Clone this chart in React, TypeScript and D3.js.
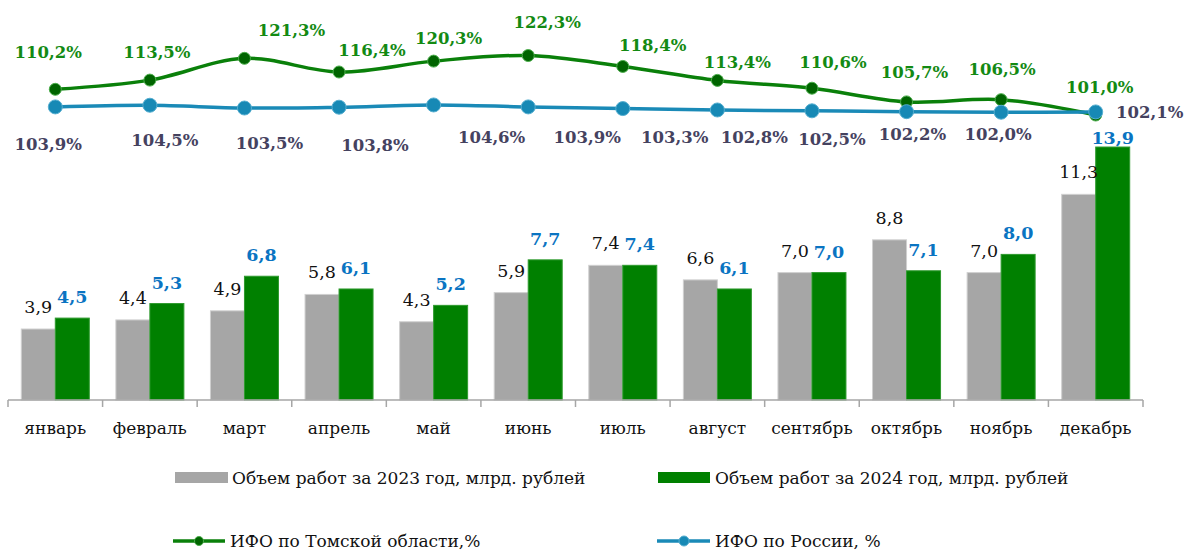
import React from "react";
import * as d3 from "d3";

const months = ["январь", "февраль", "март", "апрель", "май", "июнь", "июль", "август", "сентябрь", "октябрь", "ноябрь", "декабрь"];
const volume2023 = [3.9, 4.4, 4.9, 5.8, 4.3, 5.9, 7.4, 6.6, 7.0, 8.8, 7.0, 11.3];
const volume2024 = [4.5, 5.3, 6.8, 6.1, 5.2, 7.7, 7.4, 6.1, 7.0, 7.1, 8.0, 13.9];
const ifoTomsk = [110.2, 113.5, 121.3, 116.4, 120.3, 122.3, 118.4, 113.4, 110.6, 105.7, 106.5, 101.0];
const ifoRussia = [103.9, 104.5, 103.5, 103.8, 104.6, 103.9, 103.3, 102.8, 102.5, 102.2, 102.0, 102.1];

const legendBars = ["Объем работ за 2023 год, млрд. рублей", "Объем работ за 2024 год, млрд. рублей"];
const legendLines = ["ИФО по Томской области,%", "ИФО по России, %"];

// label placement offsets (layout only)
const tomskLabelOffset: [number, number][] = [[-7, -37], [7, -28], [47, -28], [33, -22], [15, -23], [19, -33], [30, -21], [20, -18], [21, -26], [8, -29], [1, -30], [4, -28]];
const russiaLabelOffset: [number, number][] = [[-7, 38], [15, 35], [25, 35], [36, 38], [58, 33], [59, 31], [52, 29], [37, 28], [20, 29], [6, 23], [-3, 22], [54, 1]];

const fmt = (v: number) => v.toFixed(1).replace(".", ",");

export default function App() {
  const W = 1187, H = 552;
  const font = "'DejaVu Serif', serif";
  const x = d3.scaleBand<string>().domain(months).range([8, 1143]).padding(0);
  const yBar = d3.scaleLinear().domain([0, 14]).range([400, 400 - 14 * 18.2]);
  const yLine = d3.scaleLinear().domain([100, 125]).range([117.8, 48.0]);
  const barW = 34;
  const cx = (m: string) => (x(m) as number) + x.bandwidth() / 2;

  const lineGen = d3.line<number>()
    .x((_, i) => cx(months[i]))
    .y((d) => yLine(d))
    .curve(d3.curveCatmullRom.alpha(0.5));

  const boundaries = [...months.map((m) => x(m) as number), 1143];

  return (
    <svg width={W} height={H} style={{ position: "absolute", left: 0, top: 0, background: "#fff" }} fontFamily={font}>
      {/* bars */}
      {months.map((m, i) => {
        const c = cx(m);
        return (
          <g key={m}>
            <rect x={c - barW} y={yBar(volume2023[i])} width={barW} height={400 - yBar(volume2023[i])} fill="#a6a6a6" stroke="#d0d0d0" strokeWidth={1} />
            <rect x={c} y={yBar(volume2024[i])} width={barW} height={400 - yBar(volume2024[i])} fill="#008000" stroke="#2e9a2e" strokeWidth={1} />
          </g>
        );
      })}
      {/* axis */}
      <line x1={8} x2={1143} y1={400} y2={400} stroke="#a6a6a6" strokeWidth={1.5} />
      {boundaries.map((b, i) => (
        <line key={i} x1={b} x2={b} y1={400} y2={407} stroke="#a6a6a6" strokeWidth={1.5} />
      ))}
      {months.map((m) => (
        <text key={m} x={cx(m)} y={428} textAnchor="middle" dominantBaseline="central" fontSize={17} fill="#111">{m}</text>
      ))}
      {/* bar labels */}
      {months.map((m, i) => {
        const c = cx(m);
        const t24 = yBar(volume2024[i]);
        const dy24 = i === 11 ? -9 : -21;
        return (
          <g key={"bl" + m}>
            <text x={c - barW / 2} y={yBar(volume2023[i]) - 22} textAnchor="middle" dominantBaseline="central" fontSize={17.5} fill="#111">{fmt(volume2023[i])}</text>
            <text x={c + barW / 2} y={t24 + dy24} textAnchor="middle" dominantBaseline="central" fontSize={17.5} fontWeight="bold" fill="#0a74c2">{fmt(volume2024[i])}</text>
          </g>
        );
      })}
      {/* lines */}
      <path d={lineGen(ifoTomsk) || ""} fill="none" stroke="#0a800a" strokeWidth={3.5} />
      <path d={lineGen(ifoRussia) || ""} fill="none" stroke="#1a8ab7" strokeWidth={3.5} />
      {ifoTomsk.map((v, i) => (
        <circle key={"t" + i} cx={cx(months[i])} cy={yLine(v)} r={6} fill="#006400" stroke="#4cae4c" strokeWidth={1} />
      ))}
      {ifoRussia.map((v, i) => (
        <circle key={"r" + i} cx={cx(months[i])} cy={yLine(v)} r={7} fill="#1789b5" stroke="#55aed0" strokeWidth={1} />
      ))}
      {ifoTomsk.map((v, i) => (
        <text key={"tl" + i} x={cx(months[i]) + tomskLabelOffset[i][0]} y={yLine(v) + tomskLabelOffset[i][1]} textAnchor="middle" dominantBaseline="central" fontSize={16.5} fontWeight="bold" fill="#138a13">{fmt(v) + "%"}</text>
      ))}
      {ifoRussia.map((v, i) => (
        <text key={"rl" + i} x={cx(months[i]) + russiaLabelOffset[i][0]} y={yLine(v) + russiaLabelOffset[i][1]} textAnchor="middle" dominantBaseline="central" fontSize={16.5} fontWeight="bold" fill="#45425f">{fmt(v) + "%"}</text>
      ))}
      {/* legend */}
      <rect x={175} y={472} width={53} height={11} fill="#a6a6a6" />
      <text x={232} y={478} dominantBaseline="central" fontSize={17} fill="#111">{legendBars[0]}</text>
      <rect x={658} y={472} width={52} height={11} fill="#008000" />
      <text x={715} y={478} dominantBaseline="central" fontSize={17} fill="#111">{legendBars[1]}</text>

      <line x1={173} x2={225} y1={541} y2={541} stroke="#0a800a" strokeWidth={3.5} />
      <circle cx={199} cy={541} r={4.5} fill="#006400" stroke="#4cae4c" strokeWidth={1} />
      <text x={230} y={541} dominantBaseline="central" fontSize={17} fill="#111">{legendLines[0]}</text>
      <line x1={657} x2={710} y1={541} y2={541} stroke="#1a8ab7" strokeWidth={3.5} />
      <circle cx={684} cy={541} r={5} fill="#1789b5" stroke="#55aed0" strokeWidth={1} />
      <text x={715} y={541} dominantBaseline="central" fontSize={17} fill="#111">{legendLines[1]}</text>
    </svg>
  );
}
